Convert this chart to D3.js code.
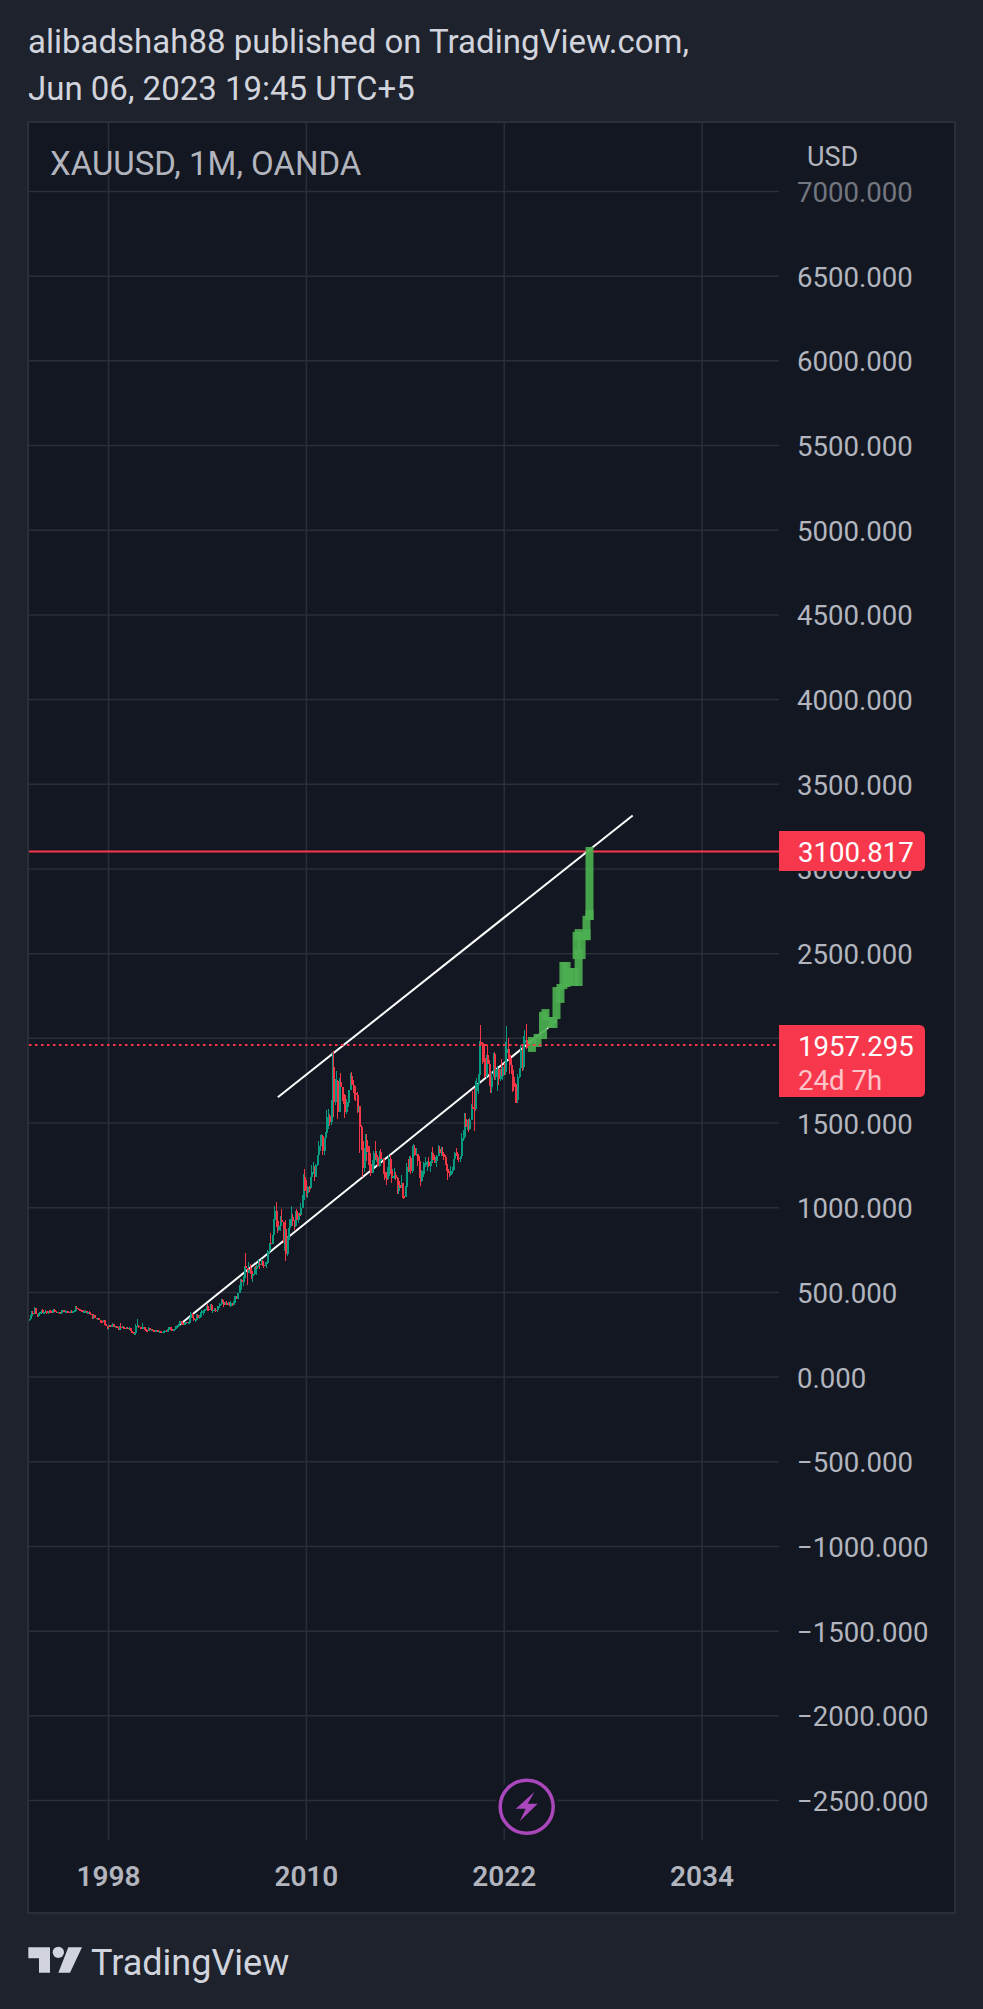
<!DOCTYPE html>
<html lang="en">
<head>
  <title>XAUUSD, 1M, OANDA</title>
  <script src="https://d3js.org/d3.v7.min.js" charset="utf-8"></script>
  <style>
    html, body { margin: 0; padding: 0; background: #1e222d; }
    svg { display: block; }
    text { font-family: Roboto, sans-serif; }
  </style>
</head>
<body>
  <script>
    var w = 983;
    var h = 2009;

    // first bar is Feb 1993, one row per year
    var startYear = 1993 + 1 / 12;

    var closes = [
      328,338,355,378,376,402,372,356,370,382,391,
      379,381,390,376,387,386,384,386,395,384,383,383,
      375,377,392,389,385,387,384,383,384,383,387,388,
      405,401,397,392,391,382,386,387,379,379,371,369,
      345,364,348,340,345,334,326,325,332,311,296,290,
      303,297,301,310,293,296,288,273,293,292,294,288,
      287,287,280,286,268,261,255,255,299,299,291,290,
      283,293,277,274,272,288,277,277,273,264,273,274,
      265,267,258,264,267,271,266,273,293,279,274,278,
      282,297,302,308,326,318,304,312,323,317,318,347,
      368,347,336,337,364,346,354,375,385,386,398,416,
      400,397,423,388,394,395,391,408,416,428,453,438,
      423,434,428,435,415,437,429,433,473,459,495,513,
      569,556,582,654,643,614,632,623,598,604,647,635,
      650,665,662,681,659,650,665,672,743,789,783,834,
      923,975,916,865,888,926,912,833,871,724,814,878,
      928,942,921,891,980,926,955,953,996,1040,1180,1096,
      1081,1118,1115,1180,1207,1244,1181,1248,1307,1359,1386,1421,
      1332,1411,1439,1535,1536,1502,1628,1826,1622,1722,1746,1563,
      1737,1711,1669,1664,1560,1597,1614,1692,1776,1719,1713,1675,
      1663,1578,1595,1472,1393,1234,1314,1396,1327,1323,1253,1202,
      1243,1322,1284,1295,1246,1327,1282,1287,1210,1171,1167,1184,
      1283,1213,1183,1183,1190,1172,1095,1133,1115,1142,1065,1060,
      1118,1237,1232,1293,1215,1322,1351,1309,1316,1272,1173,1152,
      1211,1249,1249,1268,1268,1242,1269,1321,1280,1271,1275,1303,
      1345,1318,1325,1315,1298,1253,1224,1201,1192,1215,1222,1282,
      1322,1313,1292,1284,1305,1409,1413,1520,1472,1513,1464,1517,
      1589,1585,1577,1686,1730,1780,1975,1968,1886,1879,1777,1898,
      1847,1734,1707,1769,1906,1770,1814,1814,1757,1783,1774,1829,
      1797,1909,1937,1897,1837,1807,1766,1711,1660,1633,1768,1824,
      1928,1826,1969,1990,1962,1957
    ];

    var highs = [
      338,340,362,385,388,408,407,372,375,384,396,
      397,384,396,390,389,396,392,392,398,397,390,384,
      384,381,395,396,396,392,390,389,387,392,390,392,
      417,418,404,401,395,392,390,394,387,384,385,374,
      368,368,355,346,346,345,336,332,335,332,313,300,
      305,304,304,314,310,300,298,290,300,315,300,298,
      293,293,292,292,288,268,265,260,308,340,302,294,
      292,316,293,285,278,293,288,280,280,274,275,276,
      272,268,268,266,272,274,273,279,295,295,280,280,
      283,298,305,309,329,328,325,320,325,325,322,350,
      383,375,353,341,372,369,365,380,395,391,400,418,
      426,416,430,427,400,405,403,417,419,435,457,456,
      428,443,447,439,438,444,431,445,475,474,496,540,
      575,574,592,654,731,642,676,664,640,608,647,650,
      665,692,676,695,691,667,675,677,745,791,846,834,
      928,1005,1033,935,915,947,987,915,914,925,827,880,
      930,1006,959,925,980,990,966,968,1023,1071,1195,1226,
      1161,1125,1127,1180,1249,1266,1204,1253,1307,1388,1425,1431,
      1425,1411,1447,1576,1577,1552,1632,1911,1921,1758,1803,1754,
      1764,1791,1697,1675,1643,1640,1623,1692,1790,1796,1754,1723,
      1695,1680,1616,1598,1487,1417,1348,1433,1434,1361,1361,1268,
      1280,1332,1392,1332,1307,1332,1345,1324,1288,1255,1208,1239,
      1308,1307,1220,1224,1232,1205,1177,1170,1157,1191,1143,1087,
      1128,1263,1285,1305,1304,1359,1375,1367,1352,1316,1304,1181,
      1220,1264,1263,1295,1270,1296,1274,1326,1358,1306,1299,1307,
      1366,1361,1356,1354,1326,1308,1266,1215,1214,1243,1237,1284,
      1326,1347,1324,1310,1304,1439,1453,1555,1557,1516,1518,1524,
      1611,1689,1704,1747,1765,1789,1984,2075,1973,1933,1965,1900,
      1959,1872,1755,1798,1912,1917,1833,1832,1808,1814,1877,1831,
      1853,1976,2070,1998,1910,1879,1814,1808,1735,1730,1786,1824,
      1960,1960,2009,2049,2079,1985
    ];

    var lows = [
      326,326,336,353,364,370,368,350,350,367,370,
      376,376,376,368,371,380,380,377,387,381,376,375,
      372,372,374,388,381,382,382,376,381,380,382,384,
      388,396,394,388,388,380,379,385,378,375,368,366,
      341,339,344,338,337,334,315,318,320,303,296,282,
      277,293,293,301,290,284,287,273,273,287,287,281,
      283,280,278,279,267,255,252,250,255,290,288,280,
      280,282,275,273,263,273,276,271,268,263,263,270,
      262,255,255,255,262,264,265,270,272,275,270,272,
      276,279,289,301,309,313,302,303,312,310,316,319,
      351,343,328,321,335,340,342,353,372,366,382,395,
      389,390,391,387,375,390,384,384,403,411,425,426,
      411,420,423,424,414,413,418,428,433,456,458,495,
      513,541,537,581,635,542,610,604,574,560,601,620,
      602,645,637,661,650,640,650,642,672,732,777,782,
      833,896,885,850,862,862,908,786,740,681,712,770,
      805,890,892,865,886,910,905,933,990,1003,1045,1075,
      1058,1057,1089,1115,1165,1198,1157,1186,1243,1315,1330,1378,
      1308,1309,1381,1423,1462,1478,1483,1605,1535,1604,1667,1523,
      1563,1694,1628,1612,1526,1550,1565,1592,1690,1700,1677,1635,
      1626,1555,1561,1321,1339,1180,1208,1285,1272,1251,1221,1182,
      1202,1241,1281,1268,1243,1240,1281,1274,1195,1161,1131,1167,
      1168,1198,1141,1170,1169,1162,1077,1077,1098,1114,1053,1046,
      1072,1111,1207,1208,1199,1200,1311,1301,1304,1241,1171,1124,
      1146,1180,1196,1241,1214,1237,1205,1265,1262,1261,1262,1236,
      1302,1307,1303,1302,1281,1250,1211,1160,1180,1182,1196,1221,
      1266,1302,1280,1266,1268,1300,1388,1400,1459,1458,1445,1455,
      1517,1563,1451,1567,1670,1671,1757,1863,1848,1860,1764,1764,
      1802,1717,1677,1677,1766,1750,1750,1688,1721,1746,1758,1753,
      1780,1782,1895,1872,1786,1784,1680,1688,1615,1617,1616,1765,
      1805,1804,1810,1935,1932,1940
    ];

    // projected bars drawn on top of the chart
    var fcYears = [2023.71,2024.05,2024.38,2024.53,2024.83,2025.02,2025.2,2025.44,2025.62,2025.81,
                   2025.99,2026.29,2026.54,2026.42,2026.72,2026.54,2027.02,2027.02,2027.2,2027.2];
    var fcHighs = [2005,2023,2153,2170,2123,2123,2300,2318,2448,2448,
                   2412,2412,2525,2625,2625,2642,2642,2721,2755,3127];
    var fcLows  = [1917,1946,1993,2105,2058,2058,2111,2206,2288,2300,
                   2306,2306,2306,2465,2465,2577,2577,2577,2696,2696];

    var priceTicks = [7000,6500,6000,5500,5000,4500,4000,3500,3000,2500,2000,1500,1000,500,0,-500,-1000,-1500,-2000,-2500];
    var yearTicks = [1998,2010,2022,2034];

    // trend lines as [year, price] ends
    var upperTrend = [[2008.30,1649],[2029.82,3313]];
    var lowerTrend = [[2002.17,293],[2025.2,2101]];

    var linePrice = 3100.817;
    var lastPrice = 1957.295;
    var countdown = "24d 7h";

    var up = "#089981", down = "#f23645", badgeRed = "#f7374c", gridCol = "#2a2e39", labelCol = "#b2b5be";

    var x = d3.scaleLinear().domain([1998, 2034]).range([108, 701.6]);
    var y = d3.scaleLinear().domain([7000, -2500]).range([191, 1800]);
    var fmt = d3.format(".3f");

    var svg = d3.select("body").append("svg").attr("width", w).attr("height", h);

    svg.append("rect").attr("width", w).attr("height", h).attr("fill", "#1e222d");
    svg.append("rect").attr("x", 28).attr("y", 122).attr("width", 927).attr("height", 1791)
      .attr("fill", "#131722").attr("stroke", gridCol).attr("stroke-width", 2);

    svg.append("clipPath").attr("id", "plot").append("rect")
      .attr("x", 29).attr("y", 123).attr("width", 750).attr("height", 1717);

    // header
    var head = svg.append("g").attr("fill", "#d1d4dc").attr("font-size", 33);
    head.append("text").attr("x", 28).attr("y", 53).text("alibadshah88 published on TradingView.com,");
    head.append("text").attr("x", 28).attr("y", 100).text("Jun 06, 2023 19:45 UTC+5");

    // axes, tick lines double as the grid
    var yAxis = d3.axisRight(y).tickValues(priceTicks).tickSize(0)
      .tickFormat(function(d) { return fmt(d).replace("-", "\u2212"); });
    var gy = svg.append("g").call(yAxis);
    gy.select(".domain").remove();
    gy.selectAll(".tick").append("line")
      .attr("x1", 29).attr("x2", 779).attr("y1", 0).attr("y2", 0)
      .attr("stroke", gridCol).attr("stroke-width", 1.5);
    gy.selectAll("text").attr("x", 797).attr("dy", "0.38em").attr("font-size", 27.6)
      .attr("fill", labelCol).attr("font-family", "Roboto, sans-serif");
    gy.selectAll(".tick").filter(function(d) { return d === 7000; }).select("text").attr("opacity", 0.6);

    var xAxis = d3.axisBottom(x).tickValues(yearTicks).tickSize(0).tickFormat(d3.format("d"));
    var gx = svg.append("g").attr("transform", "translate(0,1886)").call(xAxis);
    gx.select(".domain").remove();
    gx.selectAll("text").attr("y", 0).attr("dy", 0).attr("font-size", 28).attr("font-weight", 600)
      .attr("fill", labelCol).attr("font-family", "Roboto, sans-serif");
    gx.selectAll(".tick").append("line")
      .attr("y1", 123 - 1886).attr("y2", 1840 - 1886)
      .attr("stroke", gridCol).attr("stroke-width", 1.5);

    svg.append("text").attr("x", 50).attr("y", 175).attr("font-size", 33).attr("fill", labelCol).text("XAUUSD, 1M, OANDA");
    svg.append("text").attr("x", 807).attr("y", 166).attr("font-size", 27).attr("fill", labelCol).text("USD");

    var plot = svg.append("g").attr("clip-path", "url(#plot)");

    // horizontal line
    plot.append("line").attr("x1", 29).attr("x2", 779)
      .attr("y1", y(linePrice)).attr("y2", y(linePrice))
      .attr("stroke", badgeRed).attr("stroke-width", 2);

    // trend lines
    var trend = d3.line().x(function(d) { return x(d[0]); }).y(function(d) { return y(d[1]); });
    [upperTrend, lowerTrend].forEach(function(t) {
      plot.append("path").attr("d", trend(t)).attr("fill", "none")
        .attr("stroke", "#ffffff").attr("stroke-width", 2);
    });

    // candles, open taken from the month before
    var bars = closes.map(function(c, i) {
      return {
        t: startYear + i / 12,
        o: i === 0 ? 329 : closes[i - 1],
        c: c,
        hi: highs[i],
        lo: lows[i]
      };
    });

    plot.selectAll(".wick").data(bars).enter().append("rect").attr("class", "wick")
      .attr("x", function(d) { return Math.round(x(d.t)); })
      .attr("y", function(d) { return y(d.hi); })
      .attr("width", 1)
      .attr("height", function(d) { return y(d.lo) - y(d.hi); })
      .attr("shape-rendering", "crispEdges")
      .attr("fill", function(d) { return d.c >= d.o ? up : down; });

    plot.selectAll(".body").data(bars).enter().append("rect").attr("class", "body")
      .attr("x", function(d) { return Math.round(x(d.t)) - 0.5; })
      .attr("y", function(d) { return y(Math.max(d.o, d.c)); })
      .attr("width", 2.5)
      .attr("height", function(d) { return Math.max(1.5, Math.abs(y(d.o) - y(d.c))); })
      .attr("shape-rendering", "crispEdges")
      .attr("fill", function(d) { return d.c >= d.o ? up : down; });

    // projection
    plot.selectAll(".fc").data(fcYears).enter().append("rect").attr("class", "fc")
      .attr("x", function(d) { return x(d) - 4; })
      .attr("y", function(d, i) { return y(fcHighs[i]); })
      .attr("width", 8)
      .attr("height", function(d, i) { return y(fcLows[i]) - y(fcHighs[i]); })
      .attr("fill", "#4caf50")
      .attr("opacity", 0.92);

    // last price line
    plot.append("line").attr("x1", 29).attr("x2", 779)
      .attr("y1", y(lastPrice)).attr("y2", y(lastPrice))
      .attr("stroke", badgeRed).attr("stroke-width", 2).attr("stroke-dasharray", "2.5 3.5");

    // price badges
    function badge(top, bottom) {
      var r = 6;
      return "M779," + top + "H" + (925 - r) + "Q925," + top + " 925," + (top + r) +
        "V" + (bottom - r) + "Q925," + bottom + " " + (925 - r) + "," + bottom + "H779Z";
    }
    svg.append("path").attr("d", badge(Math.round(y(linePrice)) - 20, Math.round(y(linePrice)) + 20)).attr("fill", badgeRed);
    svg.append("text").attr("x", 798).attr("y", y(linePrice)).attr("dy", "0.38em")
      .attr("font-size", 27.6).attr("fill", "#ffffff").text(fmt(linePrice));

    svg.append("path").attr("d", badge(Math.round(y(lastPrice)) - 20, Math.round(y(lastPrice)) + 52)).attr("fill", badgeRed);
    svg.append("text").attr("x", 798).attr("y", y(lastPrice)).attr("dy", "0.38em")
      .attr("font-size", 27.6).attr("fill", "#ffffff").text(fmt(lastPrice));
    svg.append("text").attr("x", 798).attr("y", y(lastPrice) + 34).attr("dy", "0.38em")
      .attr("font-size", 27.6).attr("fill", "#ffffff").attr("opacity", 0.7).text(countdown);

    // lightning badge
    var bolt = svg.append("g").attr("transform", "translate(526.7,1806.7)");
    bolt.append("circle").attr("r", 31).attr("fill", "#131722");
    bolt.append("circle").attr("r", 26.5).attr("fill", "#131722").attr("stroke", "#ab47bc").attr("stroke-width", 3.5);
    bolt.append("path").attr("fill", "#ab47bc")
      .attr("d", "M8,-15L-11,2L-1,2L-7,14.5L11,-3L1,-3Z");

    // footer logo
    var logo = svg.append("g").attr("transform", "translate(20,1935) scale(0.3333)").attr("fill", "#d1d4dc");
    logo.append("path").attr("d", "M25,37H90V113H57V70H25Z");
    logo.append("circle").attr("cx", 115).attr("cy", 52).attr("r", 17);
    logo.append("path").attr("d", "M145,37H186L150,113H115Z");
    svg.append("text").attr("x", 91).attr("y", 1975).attr("font-size", 36).attr("fill", "#d1d4dc").text("TradingView");
  </script>
</body>
</html>
